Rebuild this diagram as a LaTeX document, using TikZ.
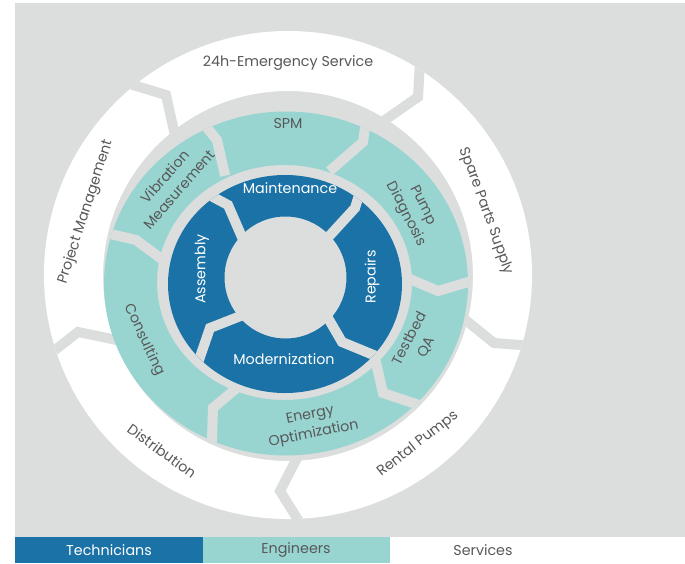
\documentclass[tikz,border=0pt]{standalone}
\usepackage{fontspec}
\setmainfont{Poppins}
\usepackage{xcolor}
\usepackage{tikz}
\definecolor{techblue}{RGB}{26,114,166}
\definecolor{engteal}{RGB}{152,213,209}
\definecolor{bggray}{RGB}{220,222,222}
\definecolor{labelgray}{RGB}{88,88,88}

\begin{document}
\begin{tikzpicture}[x=1pt,y=-1pt,
    sep/.style={draw=bggray,line width=10pt,line join=miter,shorten <=-14pt,shorten >=-14pt},
    lbl/.style={text=labelgray,font=\fontsize{14.3}{19}\selectfont,align=center,inner sep=0pt},
    wlbl/.style={lbl,text=white}]
      \useasboundingbox (0,0) rectangle (685,563);
      \fill [bggray] (15,3) rectangle (685,537);
      \fill [white,even odd rule] (288,275) circle [radius=244] (288,276) circle [radius=185];
      \begin{scope}
        \clip (288,275) circle [radius=244];
        \draw [sep] (133,85) -- (166,95) -- (172,122);
        \draw [sep] (420,62) -- (418,97) -- (385,120);
        \draw [sep] (521,345) -- (494,343) -- (468,322);
        \draw [sep] (300,523) -- (280,491) -- (295,462);
        \draw [sep] (55,350) -- (78,332) -- (107,338);
      \end{scope}
      \fill [engteal,even odd rule] (286,283.5) ellipse [x radius=182,y radius=172]
        (284.5,282.5) ellipse [x radius=127.5,y radius=117.5];
      \begin{scope}
        \clip (286,283.5) ellipse [x radius=182,y radius=172];
        \draw [sep] (198,117) -- (217,140) -- (222,162);
        \draw [sep] (367,113) -- (363,142) -- (340,162);
        \draw [sep] (465,283) -- (438,291) -- (412,280);
        \draw [sep] (413,403) -- (383,393) -- (377,367);
        \draw [sep] (212,438) -- (213,408) -- (232,392);
        \draw [sep] (106,233) -- (136,240) -- (163,260);
      \end{scope}
      \fill [techblue,even odd rule] (285,284) ellipse [x radius=117,y radius=109]
        (285.5,277.5) circle [radius=61];
      \begin{scope}
        \clip (285,284) ellipse [x radius=117,y radius=109];
        \draw [sep] (200,190) -- (228,205) -- (238,228);
        \draw [sep] (363,182) -- (355,208) -- (333,232);
        \draw [sep] (376,356) -- (342,342) -- (328,318);
        \draw [sep] (200,357) -- (210,328) -- (238,317);
      \end{scope}
      \node [lbl] (emerg) at (288,63) {24h-Emergency Service};
      \node [lbl,rotate=-70] (spares) at (486,211) {Spare Parts Supply};
      \node [lbl,rotate=38] (rental) at (418,444) {Rental Pumps};
      \node [lbl,rotate=-36] (distrib) at (162,451) {Distribution};
      \node [lbl,rotate=72] (projmgmt) at (86,212) {Project Management};
      \node [lbl] (spm) at (288,123) {SPM};
      \node [lbl,rotate=-63] (pumpdiag) at (414,210) {Pump\\Diagnosis};
      \node [lbl,rotate=63] (testbed) at (418,343) {Testbed\\QA};
      \node [lbl,rotate=11] (energy) at (312,425) {Energy\\Optimization};
      \node [lbl,rotate=-65] (consult) at (144,340) {Consulting};
      \node [lbl,rotate=49] (vibration) at (172,183) {Vibration\\Measurement};
      \node [wlbl] (maint) at (290,188) {Maintenance};
      \node [wlbl,rotate=90] (repairs) at (372,277) {Repairs};
      \node [wlbl] (modern) at (284,359) {Modernization};
      \node [wlbl,rotate=90] (assembly) at (202,269) {Assembly};
      \fill [techblue] (15,537) rectangle (203,563);
      \fill [engteal] (203,537) rectangle (390,563);
      \node [wlbl] (tech) at (109,550) {Technicians};
      \node [lbl] (eng) at (296,550) {Engineers};
      \node [lbl] (serv) at (483,550) {Services};
    \end{tikzpicture}
\end{document}
